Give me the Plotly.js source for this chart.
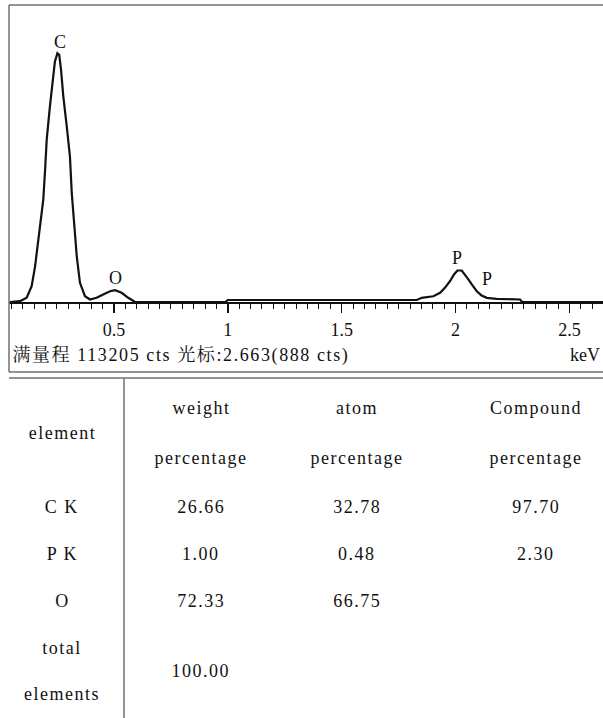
<!DOCTYPE html>
<html>
<head>
<meta charset="utf-8">
<script src="https://cdn.plot.ly/plotly-3.0.1.min.js"></script>
<style>
  html, body { margin: 0; padding: 0; background: #ffffff; }
  #chart { width: 603px; height: 718px; }
  .tbl text { letter-spacing: 1.5px; }
  .foot text { letter-spacing: 1.6px; }
</style>
</head>
<body>
<div id="chart"></div>
<script>
// ---- spectrum data (energy in keV, counts in cts) ----
const energyKeV = [0.044, 0.088, 0.117, 0.139, 0.154, 0.176, 0.190, 0.198, 0.205, 0.219,
  0.231, 0.241, 0.252, 0.260, 0.268, 0.278, 0.293, 0.307, 0.315, 0.325,
  0.337, 0.351, 0.373, 0.395, 0.424, 0.453, 0.483, 0.505, 0.534, 0.563,
  0.593, 0.990, 1.000, 1.830, 1.851, 1.902, 1.932, 1.953, 1.975, 1.993,
  2.008, 2.027, 2.041, 2.056, 2.071, 2.093, 2.114, 2.137, 2.180, 2.283,
  2.292, 2.660];
const counts = [0, 300, 1600, 6000, 13600, 28800, 39000, 50400, 61800, 74500,
  84700, 91600, 94800, 94200, 88500, 78300, 66900, 55500, 41500, 28800,
  17400, 7300, 2200, 950, 1600, 2850, 4100, 4500, 3500, 1600,
  0, 0, 760, 760, 1600, 2200, 3500, 5400, 7900, 10500,
  12000, 12000, 10500, 8600, 6700, 4100, 2500, 1600, 1200, 950,
  0, 0];
const fullScale = 113205;

// peak labels
const peakLabels = ["C", "O", "P", "P"];
const peakX = [0.263, 0.505, 2.006, 2.138];
const peakY = [99100, 9300, 16900, 8900];

const footerLeft = "满量程 113205 cts 光标:2.663(888 cts)";
const footerRight = "keV";

// ---- table data ----
const colHeadTop = ["weight", "atom", "Compound"];
const colHeadBottom = ["percentage", "percentage", "percentage"];
const rowHeader = "element";
const elements = ["C K", "P K", "O"];
const weightPct = ["26.66", "1.00", "72.33"];
const atomPct = ["32.78", "0.48", "66.75"];
const compoundPct = ["97.70", "2.30", ""];
const totalLabel = ["total", "elements"];
const totalWeight = "100.00";

// ---- layout helpers (pixel -> paper) ----
const W = 603, H = 718, ML = 9, MR = 0, MT = 5, MB = 416;
const PW = W - ML - MR, PH = H - MT - MB;
const px = x => (x - ML) / PW;
const py = y => (H - MB - y) / PH;

const serif = "'Liberation Serif', 'DejaVu Serif', serif";
const cjk = "'Liberation Serif', 'Noto Serif CJK SC', 'Noto Sans CJK SC', serif";

const annotations = [];
peakLabels.forEach((t, i) => annotations.push({
  text: t, x: peakX[i], y: peakY[i], xref: "x", yref: "y", showarrow: false,
  font: { family: serif, size: 18, color: "#111" }
}));
// letter-spacing widens the text around its centre; shift the left anchor to compensate
const footSpacing = 1.6;
annotations.push({ text: footerLeft, x: px(10 + footerLeft.length * footSpacing / 2), y: py(355),
  xref: "paper", yref: "paper", xanchor: "left", yanchor: "middle", showarrow: false,
  font: { family: cjk, size: 18, color: "#111" } });
annotations.push({ text: footerRight, x: px(602), y: py(355), xref: "paper", yref: "paper",
  xanchor: "right", yanchor: "middle", showarrow: false,
  font: { family: serif, size: 18, color: "#111" } });

const tfont = { family: serif, size: 18, color: "#111" };
const colX = [201, 357, 536];
const elemX = 62;
const rowY = [507, 554, 601];
function cell(t, x, y) {
  if (!t) return;
  annotations.push({ text: t, x: px(x), y: py(y), xref: "paper", yref: "paper",
    xanchor: "center", yanchor: "middle", showarrow: false, font: tfont });
}
cell(rowHeader, elemX, 433);
colHeadTop.forEach((t, i) => cell(t, colX[i], 408));
colHeadBottom.forEach((t, i) => cell(t, colX[i], 458));
elements.forEach((t, i) => cell(t, elemX, rowY[i]));
weightPct.forEach((t, i) => cell(t, colX[0], rowY[i]));
atomPct.forEach((t, i) => cell(t, colX[1], rowY[i]));
compoundPct.forEach((t, i) => cell(t, colX[2], rowY[i]));
cell(totalLabel[0], elemX, 648);
cell(totalLabel[1], elemX, 694);
cell(totalWeight, colX[0], 671);

const gray = "#707070";
const shapes = [
  { type: "line", xref: "paper", yref: "paper", x0: px(9), x1: px(9), y0: py(5), y1: py(372), line: { color: gray, width: 1.5 } },
  { type: "line", xref: "paper", yref: "paper", x0: px(9), x1: px(604), y0: py(5), y1: py(5), line: { color: gray, width: 1.5 } },
  { type: "line", xref: "paper", yref: "paper", x0: px(9), x1: px(604), y0: py(372), y1: py(372), line: { color: gray, width: 1.5 } },
  { type: "line", xref: "paper", yref: "paper", x0: px(9), x1: px(604), y0: py(378), y1: py(378), line: { color: gray, width: 1.5 } },
  { type: "line", xref: "paper", yref: "paper", x0: px(124), x1: px(124), y0: py(378), y1: py(718), line: { color: gray, width: 1.5 } }
];

const trace = {
  type: "scatter", mode: "lines", x: energyKeV, y: counts,
  line: { color: "#111", width: 2.2, shape: "linear" }, hoverinfo: "skip", showlegend: false
};

const layout = {
  width: W, height: H,
  margin: { l: ML, r: MR, t: MT, b: MB, pad: 0 },
  paper_bgcolor: "#ffffff", plot_bgcolor: "#ffffff",
  showlegend: false,
  xaxis: {
    range: [ML / 227.8, W / 227.8], showgrid: false, zeroline: false,
    showline: true, linecolor: "#111", linewidth: 1.5,
    ticks: "outside", ticklen: 9, tickwidth: 1.5, tickcolor: "#111",
    tick0: 0, dtick: 0.5, ticklabelstandoff: 2,
    tickfont: { family: serif, size: 18, color: "#111" },
    minor: { ticks: "outside", dtick: 0.05, ticklen: 5, tickwidth: 1, tickcolor: "#111", showgrid: false }
  },
  yaxis: { range: [0, fullScale], visible: false, showgrid: false, zeroline: false },
  annotations: annotations,
  shapes: shapes
};

Plotly.newPlot("chart", [trace], layout, { displayModeBar: false, staticPlot: true }).then(() => {
  document.querySelectorAll(".annotation").forEach(a => {
    const i = +a.getAttribute("data-index");
    if (i === 4) a.classList.add("foot");
    if (i >= 6) a.classList.add("tbl");
  });
});
</script>
</body>
</html>
